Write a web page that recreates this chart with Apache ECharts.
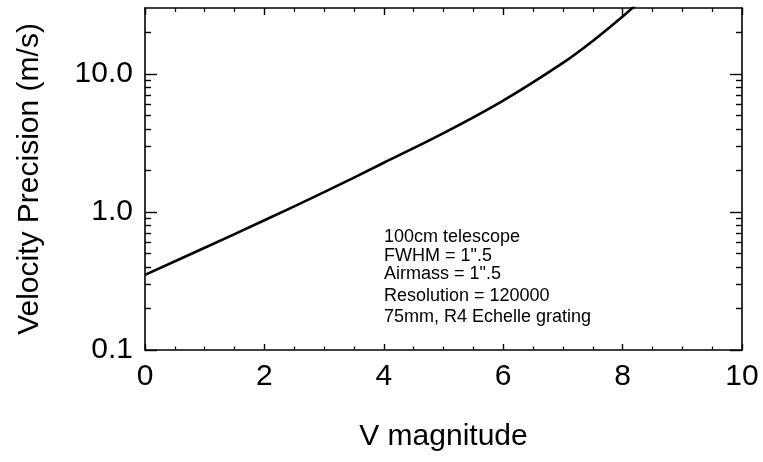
<!DOCTYPE html>
<html>
<head>
<meta charset="utf-8">
<script src="https://cdn.jsdelivr.net/npm/echarts@6/dist/echarts.min.js"></script>
<style>
  html, body { margin: 0; padding: 0; background: #fff; }
  #chart { width: 763px; height: 462px; }
</style>
</head>
<body>
<div id="chart"></div>
<script>
var vMag = [0, 1, 2, 3, 4, 5, 6, 7, 7.5, 8, 8.3];
var precision = [0.35, 0.55, 0.87, 1.39, 2.27, 3.72, 6.4, 12.0, 17.3, 26.0, 34];
var majorY = [0.1, 1, 10];
var minorY = [0.2, 0.3, 0.4, 0.5, 0.6, 0.7, 0.8, 0.9, 2, 3, 4, 5, 6, 7, 8, 9, 20];
var notes = ['100cm telescope', 'FWHM = 1".5', 'Airmass = 1".5', 'Resolution = 120000', '75mm, R4 Echelle grating'];
var noteY = [238, 257, 275, 297, 318];

var font = 'Liberation Sans, Arial, Helvetica, sans-serif';
var axisLine = { show: true, lineStyle: { color: '#000', width: 1.6 } };

function yAxisDef(pos, ticks, len, labels, line) {
    return {
        type: 'log', logBase: 10, min: 0.1, max: 30, position: pos,
        axisLine: line ? axisLine : { show: false },
        axisTick: { show: true, inside: true, length: len, customValues: ticks,
            lineStyle: { color: '#000', width: 1.4 } },
        axisLabel: labels ? { show: true, customValues: majorY, margin: 12,
            fontFamily: font, fontSize: 30, color: '#000',
            formatter: function (v) { return Number(v).toFixed(1); } } : { show: false },
        minorTick: { show: false },
        splitLine: { show: false }
    };
}

function xAxisDef(pos, labels, tickLen, minorLen) {
    return {
        type: 'value', min: 0, max: 10, interval: 2, position: pos,
        axisLine: axisLine,
        axisTick: { show: true, inside: true, length: tickLen, lineStyle: { color: '#000', width: 1.4 } },
        minorTick: { show: true, splitNumber: 4, length: minorLen, lineStyle: { color: '#000', width: 1.2 } },
        axisLabel: labels ? { show: true, margin: 12, fontFamily: font, fontSize: 30, color: '#000' } : { show: false },
        splitLine: { show: false }
    };
}

var yMain = yAxisDef('left', majorY, 12, true, true);
yMain.name = 'Velocity Precision (m/s)';
yMain.nameLocation = 'middle';
yMain.nameGap = 100;
yMain.nameTextStyle = { fontFamily: font, fontSize: 30, color: '#000' };

var xMain = xAxisDef('bottom', true, 6, 3.5);
xMain.name = 'V magnitude';
xMain.nameLocation = 'middle';
xMain.nameGap = 72;
xMain.nameTextStyle = { fontFamily: font, fontSize: 30, color: '#000' };

var myChart = echarts.init(document.getElementById('chart'), null, { renderer: 'canvas' });
myChart.setOption({
    animation: false,
    grid: { left: 145, right: 21, top: 8, bottom: 112, containLabel: false },
    xAxis: [xMain, xAxisDef('top', false, 7, 4)],
    yAxis: [
        yMain,
        yAxisDef('left', minorY, 6, false, false),
        yAxisDef('right', majorY, 12, false, true),
        yAxisDef('right', minorY, 6, false, false)
    ],
    graphic: notes.map(function (t, i) {
        return {
            type: 'text', left: 384, top: noteY[i] - 10,
            style: { text: t, fontFamily: font, fontSize: 18, fill: '#000' }
        };
    }),
    series: [{
        type: 'line',
        xAxisIndex: 0, yAxisIndex: 0,
        data: vMag.map(function (v, i) { return [v, precision[i]]; }),
        smooth: 0.3,
        symbol: 'none',
        clip: true,
        lineStyle: { color: '#000', width: 2.6 }
    }]
});
</script>
</body>
</html>
